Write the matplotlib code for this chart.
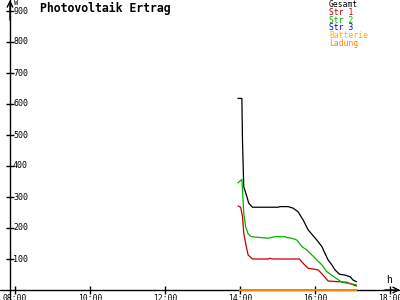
import matplotlib
matplotlib.use("Agg")
from matplotlib import pyplot as plt

# Werte (Uhrzeit, Watt)
gesamt_t = ["13:57", "14:03", "14:04", "14:06", "14:11", "14:14", "14:20", "15:01", "15:04",
            "15:17", "15:25", "15:33", "15:41", "15:49", "16:03", "16:11", "16:16", "16:21",
            "16:27", "16:32", "16:39", "16:48", "16:56", "17:01", "17:06"]
gesamt_w = [618, 618, 480, 333, 301, 280, 267, 267, 269,
            269, 264, 252, 226, 194, 161, 140, 118, 97,
            81, 65, 51, 48, 43, 32, 27]

str1_t = ["13:57", "14:01", "14:04", "14:06", "14:10", "14:13", "14:20", "14:45", "14:48",
          "14:53", "15:35", "15:41", "15:49", "16:05", "16:13", "16:21", "16:51", "17:06"]
str1_w = [271, 267, 237, 183, 140, 113, 100, 100, 102,
          100, 100, 86, 70, 65, 48, 29, 25, 13]

str2_t = ["13:57", "14:03", "14:04", "14:06", "14:09", "14:13", "14:18", "14:45", "14:56",
          "15:12", "15:15", "15:23", "15:31", "15:39", "15:47", "15:55", "16:03", "16:11",
          "16:19", "16:30", "16:43", "16:51", "17:06"]
str2_w = [346, 357, 323, 247, 204, 181, 172, 167, 172,
          172, 169, 167, 161, 140, 129, 113, 97, 81,
          59, 43, 25, 22, 17]

str3_t = ["14:00", "17:06"]
str3_w = [0, 0]
batterie_t = ["14:00", "17:06"]
batterie_w = [0, 0]
ladung_t = ["14:00", "17:06"]
ladung_w = [0, 0]

y_ticks = [100, 200, 300, 400, 500, 600, 700, 800, 900]
x_ticks = [8, 10, 12, 14, 16, 18]
x_labels = ["08:00", "10:00", "12:00", "14:00", "16:00", "18:00"]

legende = [("Gesamt", "#000000"), ("Str 1", "#c00000"), ("Str 2", "#00b000"),
           ("Str 3", "#0000ff"), ("Batterie", "#ffb000"), ("Ladung", "#ff8000")]


def stunden(liste):
    return [int(s[:2]) + int(s[3:]) / 60 for s in liste]


MONO = "DejaVu Sans Mono"
fig = plt.figure(figsize=(4, 3), dpi=100)
ax = fig.add_axes([0, 0, 1, 1])
# 37.5 px pro Stunde, 08:00 bei x=15 px ; 0 W bei y=290 px, 31 px pro 100 W
ax.set_xlim(8 - 15 / 37.5, 8 + 385 / 37.5)
ax.set_ylim(-10 / 0.31, 290 / 0.31)
x0 = 8 - 5 / 37.5

for s in ["top", "right"]:
    ax.spines[s].set_visible(False)
ax.spines["left"].set_position(("data", x0))
ax.spines["bottom"].set_position(("data", 0))
ax.spines["left"].set_linewidth(1)
ax.spines["bottom"].set_linewidth(1)

ax.set_yticks(y_ticks)
ax.set_yticklabels([])
ax.tick_params(axis="y", direction="inout", length=6, width=1)
for v in y_ticks:
    ax.text(x0 + 3 / 37.5, v, str(v), fontsize=6, family=MONO, va="center", ha="left")

ax.set_xticks(x_ticks)
ax.set_xticklabels(x_labels, fontsize=5.8, family=MONO)
ax.tick_params(axis="x", direction="inout", length=6, width=1, pad=0)

# Pfeile
ax.annotate("", xy=(x0, 290 / 0.31), xytext=(x0, 270 / 0.31),
            arrowprops=dict(arrowstyle="->", lw=1, color="black", shrinkA=0, shrinkB=0))
ax.annotate("", xy=(8 + 385 / 37.5, 0), xytext=(8 + 370 / 37.5, 0),
            arrowprops=dict(arrowstyle="->", lw=1, color="black", shrinkA=0, shrinkB=0))
ax.text(x0 + 4 / 37.5, 290 / 0.31, "W", fontsize=5, family=MONO, va="top", ha="left")
ax.text(8 + 371 / 37.5, 5 / 0.31, "h", fontsize=7, family=MONO, va="bottom", ha="left")

ax.plot(stunden(gesamt_t), gesamt_w, color="#000000", lw=0.9)
ax.plot(stunden(str1_t), str1_w, color="#c00000", lw=0.9)
ax.plot(stunden(str2_t), str2_w, color="#00b000", lw=0.9)
ax.plot(stunden(str3_t), str3_w, color="#0000ff", lw=1.2, zorder=4, clip_on=False)
ax.plot(stunden(batterie_t), batterie_w, color="#ffb000", lw=1.2, zorder=4, clip_on=False)
ax.plot(stunden(ladung_t), ladung_w, color="#ff8000", lw=1.2, zorder=5, clip_on=False)

fig.text(40 / 400, 1 - 8 / 300, "Photovoltaik Ertrag", fontsize=8.3, family=MONO,
         weight="bold", va="center", ha="left")
for i, (name, farbe) in enumerate(legende):
    fig.text(329 / 400, 1 - (4.5 + 7.8 * i) / 300, name, fontsize=5.8, family=MONO,
             color=farbe, va="center", ha="left")

fig.savefig("out.png", dpi=100)
